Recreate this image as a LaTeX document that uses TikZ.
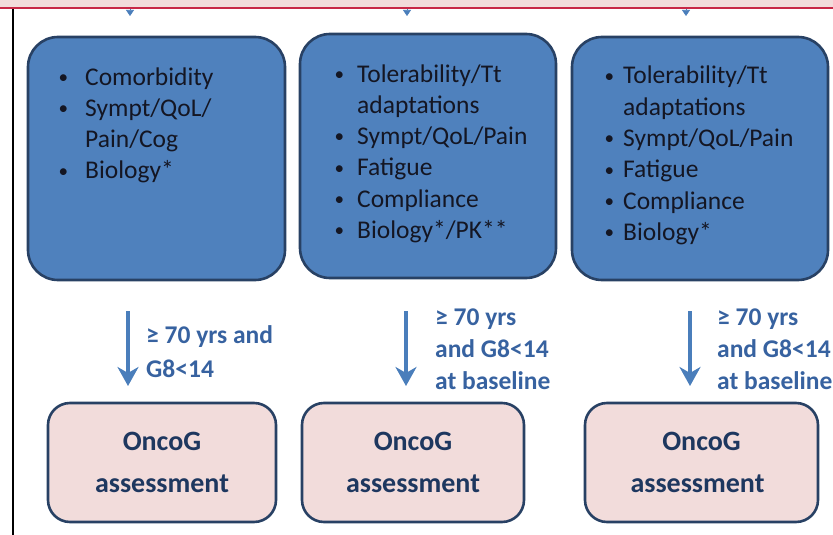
\documentclass[tikz,border=0pt]{standalone}
\usepackage{fontspec}
\setmainfont{Carlito}
\usetikzlibrary{arrows.meta}
\definecolor{bandpink}{RGB}{242,220,219}
\definecolor{bandred}{RGB}{200,40,70}
\definecolor{boxblue}{RGB}{79,129,189}
\definecolor{boxedge}{RGB}{40,65,100}
\definecolor{arrowblue}{RGB}{74,126,187}
\definecolor{labelblue}{RGB}{55,98,160}
\definecolor{navytext}{RGB}{30,55,95}
\definecolor{listtext}{RGB}{20,22,35}
\tikzset{
  bluebox/.style={draw=boxedge, line width=2.6pt, fill=boxblue, rounded corners=30pt, minimum width=#1, inner sep=0pt},
  pinkbox/.style={draw=boxedge, line width=2.6pt, fill=bandpink, rounded corners=22pt, inner sep=0pt, align=center, text=navytext, font=\fontsize{28}{42}\selectfont\bfseries},
  listtxt/.style={anchor=base west, inner sep=0pt, text=listtext, font=\fontsize{25.5}{31.3}\selectfont},
  condlbl/.style={anchor=base west, inner sep=0pt, text=labelblue, align=left, font=\fontsize{25.5}{32}\selectfont\bfseries},
  downarrow/.style={draw=arrowblue, line width=3.8pt, -{Stealth[width=21pt,length=19pt,inset=6pt]}},
  toptip/.style={draw=arrowblue, line width=0.6pt, -{Triangle[width=8pt,length=6pt]}},
}
\newcommand{\bul}[1]{\llap{\raisebox{1.6pt}{\scalebox{0.75}{\textbullet}}\hspace{#1}}}
\begin{document}
\begin{tikzpicture}[x=1pt,y=-1pt]
\useasboundingbox (0,0) rectangle (833,535);
% top band
\fill[bandpink] (0,-2) rectangle (833,8);
\draw[bandred, line width=1.6pt] (0,8) -- (833,8);
% left line
\draw[black, line width=1.6pt] (13,9) -- (13,535);
% top arrow tips
\coordinate (t1a) at (130,9); \coordinate (t1b) at (130,16);
\coordinate (t2a) at (407,9); \coordinate (t2b) at (407,16);
\coordinate (t3a) at (686,9); \coordinate (t3b) at (686,16);
\draw[toptip] (t1a) -- (t1b);
\draw[toptip] (t2a) -- (t2b);
\draw[toptip] (t3a) -- (t3b);
% blue boxes
\node[bluebox=257pt, minimum height=243pt] (b1) at (156.5,158.5) {};
\node[bluebox=256pt, minimum height=244pt] (b2) at (428,156) {};
\node[bluebox=256pt, minimum height=243pt] (b3) at (700,158.5) {};
% list texts
\node[listtxt] (l1) at (85,85) {\begin{tabular}[t]{@{}l@{}}\bul{17pt}Comorbidity\\ \bul{17pt}Sympt/QoL/\\ Pain/Cog\\ \bul{17pt}Biology*\end{tabular}};
\node[listtxt] (l2) at (357,82) {\begin{tabular}[t]{@{}l@{}}\bul{13pt}Tolerability/Tt\\ adaptations\\ \bul{13pt}Sympt/QoL/Pain\\ \bul{13pt}Fatigue\\ \bul{13pt}Compliance\\ \bul{13pt}Biology*/PK**\end{tabular}};
\node[listtxt] (l3) at (623,84) {\begin{tabular}[t]{@{}l@{}}\bul{9pt}Tolerability/Tt\\ adaptations\\ \bul{9pt}Sympt/QoL/Pain\\ \bul{9pt}Fatigue\\ \bul{9pt}Compliance\\ \bul{9pt}Biology*\end{tabular}};
% pink boxes
\node[pinkbox, minimum width=228pt, minimum height=119pt] (p1) at (162,462.5) {OncoG\\assessment};
\node[pinkbox, minimum width=222pt, minimum height=119pt] (p2) at (413,462.5) {OncoG\\assessment};
\node[pinkbox, minimum width=233pt, minimum height=119pt] (p3) at (701.5,462.5) {OncoG\\assessment\hspace*{8pt}};
% arrows
\coordinate (a1s) at (128,311); \coordinate (a1e) at (128,386);
\coordinate (a2s) at (406,311); \coordinate (a2e) at (406,386);
\coordinate (a3s) at (690,311); \coordinate (a3e) at (690,386);
\draw[downarrow] (a1s) -- (a1e);
\draw[downarrow] (a2s) -- (a2e);
\draw[downarrow] (a3s) -- (a3e);
% condition labels
\node[condlbl] (c1) at (146,343) {\begin{tabular}[t]{@{}l@{}}≥ 70 yrs and\\[2.5pt] G8<14\end{tabular}};
\node[condlbl] (c2) at (435,325) {\begin{tabular}[t]{@{}l@{}}≥ 70 yrs\\ and G8<14\\ at baseline\end{tabular}};
\node[condlbl] (c3) at (717,325) {\begin{tabular}[t]{@{}l@{}}≥ 70 yrs\\ and G8<14\\ at baseline\end{tabular}};
\end{tikzpicture}
\end{document}
